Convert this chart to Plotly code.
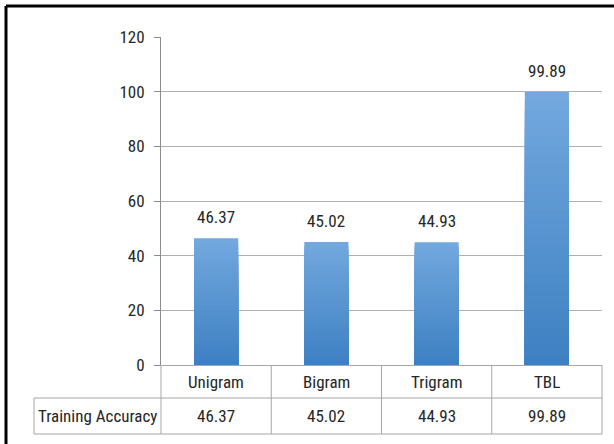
import plotly.graph_objects as go

categories = ["Unigram", "Bigram", "Trigram", "TBL"]
accuracy = [46.37, 45.02, 44.93, 99.89]
series_name = "Training Accuracy"
y_ticks = [0, 20, 40, 60, 80, 100, 120]

W, H = 614, 444
L, R, T, B = 161, 602, 37, 365  # plot area in pixels
ROW1_BOTTOM = 398
ROW2_BOTTOM = 434
TABLE_LEFT = 34

FONT = "Liberation Sans Narrow, Arial Narrow, Roboto Condensed, Liberation Sans, sans-serif"
TXT = "#262626"
GRID = "#b0b0b0"
LINE = "#a6a6a6"

def px(x):
    return (x - L) / (R - L)

def py(y):
    return (B - y) / (B - T)

def lerp(c1, c2, t):
    a = [int(c1[i:i + 2], 16) for i in (1, 3, 5)]
    b = [int(c2[i:i + 2], 16) for i in (1, 3, 5)]
    return "#%02x%02x%02x" % tuple(round(a[i] + (b[i] - a[i]) * t) for i in range(3))

TOP_C = "#72a8de"
BOT_C = "#3c7fc1"

fig = go.Figure()
N = 30
for k in range(N, 0, -1):
    frac = k / N
    fig.add_trace(go.Bar(
        x=categories,
        y=[v * frac for v in accuracy],
        width=0.4,
        marker=dict(color=lerp(BOT_C, TOP_C, frac), line=dict(width=0)),
        showlegend=False,
        hoverinfo="skip",
    ))

annotations = []
# value labels above bars
for c, v in zip(categories, accuracy):
    annotations.append(dict(x=c, y=v, xref="x", yref="y", text=f"{v:.2f}",
                            showarrow=False, yanchor="bottom", yshift=9,
                            font=dict(family=FONT, size=17, color=TXT)))
# data table text
for c, v in zip(categories, accuracy):
    annotations.append(dict(x=c, y=py((B + ROW1_BOTTOM) / 2), xref="x", yref="paper",
                            text=c, showarrow=False, yanchor="middle",
                            font=dict(family=FONT, size=17, color=TXT)))
    annotations.append(dict(x=c, y=py((ROW1_BOTTOM + ROW2_BOTTOM) / 2), xref="x", yref="paper",
                            text=f"{v:.2f}", showarrow=False, yanchor="middle",
                            font=dict(family=FONT, size=17, color=TXT)))
annotations.append(dict(x=px((TABLE_LEFT + L) / 2), y=py((ROW1_BOTTOM + ROW2_BOTTOM) / 2),
                        xref="paper", yref="paper", text=series_name, showarrow=False,
                        yanchor="middle", xanchor="center",
                        font=dict(family=FONT, size=17, color=TXT)))

shapes = []
ln = dict(color=LINE, width=1)
# horizontal table lines
shapes.append(dict(type="line", xref="paper", yref="paper", x0=px(TABLE_LEFT), x1=1,
                   y0=py(ROW1_BOTTOM), y1=py(ROW1_BOTTOM), line=ln))
shapes.append(dict(type="line", xref="paper", yref="paper", x0=px(TABLE_LEFT), x1=1,
                   y0=py(ROW2_BOTTOM), y1=py(ROW2_BOTTOM), line=ln))
# vertical table lines
for xb in [0, 1]:
    shapes.append(dict(type="line", xref="paper", yref="paper", x0=xb, x1=xb,
                       y0=0, y1=py(ROW2_BOTTOM), line=ln))
shapes.append(dict(type="line", xref="paper", yref="paper", x0=px(TABLE_LEFT), x1=px(TABLE_LEFT),
                   y0=py(ROW1_BOTTOM), y1=py(ROW2_BOTTOM), line=ln))
for i in range(1, len(categories)):
    shapes.append(dict(type="line", xref="x", yref="paper", x0=i - 0.5, x1=i - 0.5,
                       y0=0, y1=py(ROW2_BOTTOM), line=ln))
# outer black frame (left & top)
shapes.append(dict(type="line", xref="paper", yref="paper", x0=px(6), x1=px(W + 10),
                   y0=py(6), y1=py(6), line=dict(color="#000000", width=3)))
shapes.append(dict(type="line", xref="paper", yref="paper", x0=px(6), x1=px(6),
                   y0=py(6), y1=py(H + 10), line=dict(color="#000000", width=3)))

fig.update_layout(
    width=W, height=H,
    margin=dict(l=L, r=W - R, t=T, b=H - B, pad=0),
    paper_bgcolor="white", plot_bgcolor="white",
    barmode="overlay",
    showlegend=False,
    annotations=annotations,
    shapes=shapes,
    xaxis=dict(type="category", range=[-0.5, len(categories) - 0.5],
               showticklabels=False, showgrid=False, zeroline=False,
               showline=True, linecolor=LINE, linewidth=1, ticks=""),
    yaxis=dict(range=[0, 120], tickvals=y_ticks, ticktext=[str(t) for t in y_ticks],
               showgrid=True, gridcolor=GRID, gridwidth=1, zeroline=False,
               showline=True, linecolor="#8c8c8c", linewidth=1,
               ticks="outside", ticklen=6, tickcolor="#8c8c8c",
               ticklabelstandoff=6,
               tickfont=dict(family=FONT, size=17, color=TXT)),
)

fig.write_html("out.html")
